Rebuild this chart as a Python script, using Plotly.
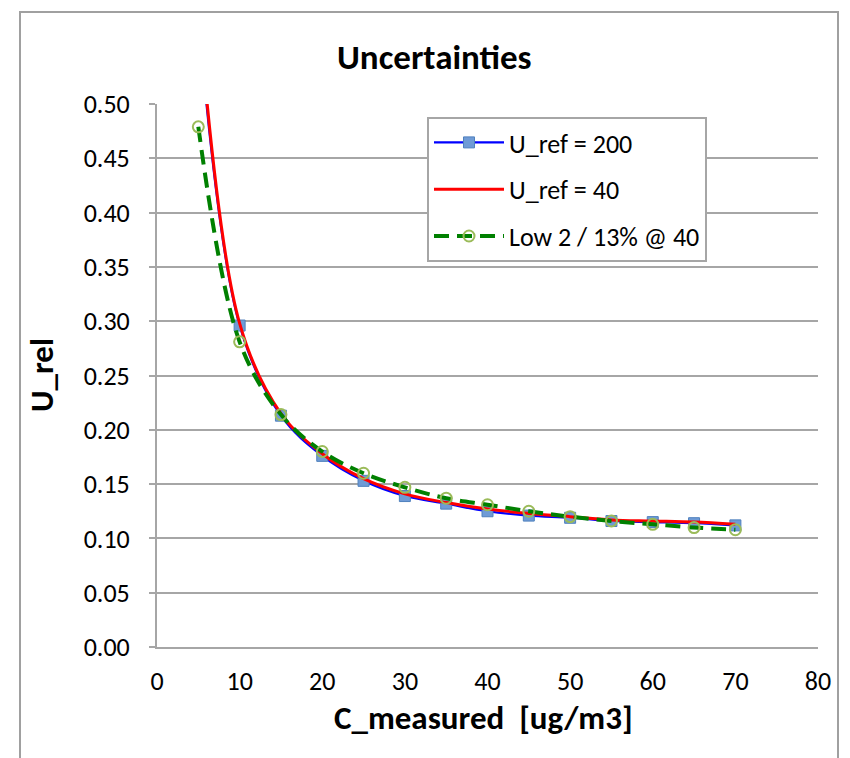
import plotly.graph_objects as go

# Data
c_measured = [5, 10, 15, 20, 25, 30, 35, 40, 45, 50, 55, 60, 65, 70]
u_ref_200 = [0.580, 0.296, 0.213, 0.176, 0.153, 0.139, 0.132, 0.125, 0.121, 0.119, 0.116, 0.115, 0.114, 0.112]
u_ref_40 = [0.590, 0.298, 0.215, 0.178, 0.155, 0.141, 0.133, 0.127, 0.123, 0.120, 0.117, 0.116, 0.115, 0.113]
low_2_13 = [0.479, 0.281, 0.214, 0.180, 0.160, 0.147, 0.137, 0.131, 0.125, 0.120, 0.116, 0.113, 0.110, 0.108]

series_names = ["U_ref = 200", "U_ref = 40", "Low 2 / 13% @ 40"]
y_ticks = [0.0, 0.05, 0.10, 0.15, 0.20, 0.25, 0.30, 0.35, 0.40, 0.45, 0.50]
x_ticks = [0, 10, 20, 30, 40, 50, 60, 70, 80]

FONT = "Calibri, Carlito, Lato, sans-serif"

fig = go.Figure()
fig.add_trace(go.Scatter(
    x=c_measured, y=u_ref_200, name=series_names[0], legendgroup="a",
    mode="lines+markers", line=dict(color="#0000FF", width=2.2, shape="spline"),
    marker=dict(symbol="square", size=11, color="#6F9BD6", line=dict(color="#4F81BD", width=1)),
))
fig.add_trace(go.Scatter(
    x=c_measured, y=u_ref_40, name=series_names[1], legendgroup="b",
    mode="lines", line=dict(color="#FF0000", width=3, shape="spline"),
))
fig.add_trace(go.Scatter(
    x=c_measured, y=low_2_13, name=series_names[2], legendgroup="c",
    mode="lines+markers", line=dict(color="#008000", width=4, shape="spline", dash="15px,8px"),
    marker=dict(symbol="circle-open", size=11, color="#9BBB59", line=dict(color="#9BBB59", width=2)),
))

L, R, T, B = 157, 818, 104, 647
W, H = 850, 758
pw, ph = R - L, B - T

def px(x):
    return (x - L) / pw

def py(y):
    return (B - y) / ph

fig.update_layout(
    width=W, height=H,
    margin=dict(l=L, r=W - R, t=T, b=H - B),
    paper_bgcolor="white", plot_bgcolor="white",
    font=dict(family=FONT, size=26, color="black"),
    showlegend=True,
    legend=dict(
        x=px(427), y=py(117), xanchor="left", yanchor="top",
        bgcolor="white", bordercolor="#A6A6A6", borderwidth=2,
        font=dict(size=26), tracegroupgap=10, itemwidth=70,
    ),
    xaxis=dict(
        range=[0, 80], tickvals=x_ticks, ticks="", showgrid=False,
        showline=True, linecolor="#A6A6A6", linewidth=2, zeroline=False,
        ticklabelstandoff=10, tickfont=dict(size=26),
    ),
    yaxis=dict(
        range=[0, 0.5], tickvals=y_ticks, tickformat=".2f",
        ticks="outside", ticklen=6, tickcolor="#A6A6A6", tickwidth=2,
        showgrid=True, gridcolor="#A6A6A6", gridwidth=2,
        showline=True, linecolor="#A6A6A6", linewidth=2, zeroline=False,
        ticklabelstandoff=14, tickfont=dict(size=26),
    ),
    shapes=[dict(
        type="rect", xref="paper", yref="paper",
        x0=px(20), x1=px(838), y0=py(775), y1=py(12),
        line=dict(color="#A0A0A0", width=2), fillcolor="rgba(0,0,0,0)", layer="below",
    )],
    annotations=[
        dict(text="<b>Uncertainties</b>", xref="paper", yref="paper", x=px(434), y=py(57),
             xanchor="center", yanchor="middle", showarrow=False, font=dict(size=35)),
        dict(text="<b>C_measured  [ug/m3]</b>", xref="paper", yref="paper", x=px(483), y=py(718),
             xanchor="center", yanchor="middle", showarrow=False, font=dict(size=33)),
        dict(text="<b>U_rel</b>", xref="paper", yref="paper", x=px(42), y=py(375),
             xanchor="center", yanchor="middle", showarrow=False, textangle=-90, font=dict(size=33)),
    ],
)

fig.write_html("out.html")
